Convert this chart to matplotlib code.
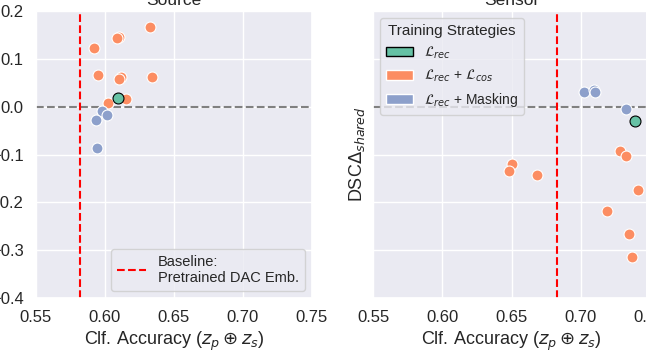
import numpy as np
import matplotlib
matplotlib.use("Agg")
import matplotlib.pyplot as plt
import seaborn as sns
from matplotlib.patches import Patch
from matplotlib.lines import Line2D

# --- data ------------------------------------------------------------------
src_rec_x = [0.6092]
src_rec_y = [0.019]
src_cos_x = [0.6326, 0.6101, 0.6090, 0.5923, 0.5951, 0.6114, 0.6104, 0.6338, 0.6150, 0.6024]
src_cos_y = [0.166, 0.146, 0.143, 0.123, 0.067, 0.063, 0.057, 0.063, 0.015, 0.007]
src_mask_x = [0.5980, 0.6012, 0.5935, 0.5940]
src_mask_y = [-0.009, -0.018, -0.027, -0.086]

sen_rec_x = [0.7389]
sen_rec_y = [-0.030]
sen_cos_x = [0.7281, 0.7329, 0.6502, 0.6485, 0.6685, 0.7410, 0.7190, 0.7349, 0.7367]
sen_cos_y = [-0.093, -0.103, -0.120, -0.134, -0.142, -0.174, -0.218, -0.266, -0.315]
sen_mask_x = [0.7021, 0.7096, 0.7105, 0.7326]
sen_mask_y = [0.030, 0.035, 0.030, -0.004]

baseline_src = 0.582
baseline_sen = 0.683

titles = ["Source", "Sensor"]
strategies = [r"$\mathcal{L}_{rec}$", r"$\mathcal{L}_{rec}$ + $\mathcal{L}_{cos}$",
              r"$\mathcal{L}_{rec}$ + Masking"]
xticks = [0.55, 0.60, 0.65, 0.70, 0.75]
yticks = [-0.4, -0.3, -0.2, -0.1, 0.0, 0.1, 0.2]

GREEN, ORANGE, BLUE = "#66c2a5", "#fc8d62", "#8da0cb"

sns.set_theme(style="darkgrid")
plt.rcParams["font.family"] = ["Liberation Sans", "DejaVu Sans"]

fig = plt.figure(figsize=(6.46, 3.58), dpi=100)
# the reference is a crop of a wider figure: the right panel runs past the edge
axL = fig.add_axes([36 / 646, 1 - 298 / 358, 276 / 646, 287 / 358])
axR = fig.add_axes([373 / 646, 1 - 298 / 358, 277 / 646, 287 / 358], sharey=axL)

panels = [
    (axL, src_rec_x, src_rec_y, src_cos_x, src_cos_y, src_mask_x, src_mask_y, baseline_src),
    (axR, sen_rec_x, sen_rec_y, sen_cos_x, sen_cos_y, sen_mask_x, sen_mask_y, baseline_sen),
]
for (ax, rx, ry, cx, cy, mx, my, base), title in zip(panels, titles):
    ax.axhline(0.0, color="gray", ls="--", lw=1.5, zorder=1)
    ax.axvline(base, color="red", ls="--", lw=1.5, zorder=1)
    ax.scatter(cx, cy, s=62, color=ORANGE, edgecolor="white", linewidth=0.8, zorder=3)
    ax.scatter(mx, my, s=62, color=BLUE, edgecolor="white", linewidth=0.8, zorder=3)
    ax.scatter(rx, ry, s=62, color=GREEN, edgecolor="black", linewidth=0.8, zorder=4)
    ax.set_xlim(0.55, 0.75)
    ax.set_ylim(-0.4, 0.2)
    ax.set_xticks(xticks)
    ax.set_yticks(yticks)
    ax.tick_params(labelsize=12, pad=3)
    ax.set_xlabel(r"Clf. Accuracy ($z_p \oplus z_s$)", fontsize=13, labelpad=3)
    ax.set_title(title, fontsize=12.5, pad=4)

axR.tick_params(labelleft=False)
axR.set_ylabel(r"DSC$\Delta_{shared}$", fontsize=13, labelpad=4)

axL.legend(handles=[Line2D([0], [0], color="red", ls="--", lw=1.5,
                           label="Baseline:\nPretrained DAC Emb.")],
           loc="lower right", fontsize=10.5)
axR.legend(handles=[Patch(facecolor=GREEN, edgecolor="black", label=strategies[0]),
                    Patch(facecolor=ORANGE, edgecolor="white", label=strategies[1]),
                    Patch(facecolor=BLUE, edgecolor="white", label=strategies[2])],
           title="Training Strategies", loc="upper left", fontsize=10, title_fontsize=11)

fig.savefig("out.png", dpi=100)
